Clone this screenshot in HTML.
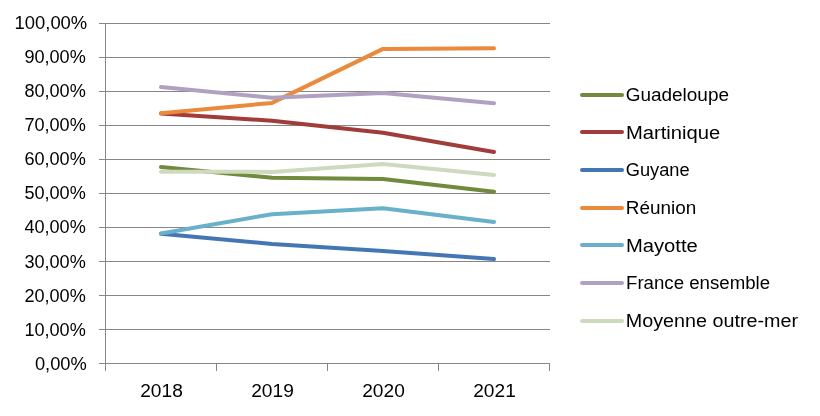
<!DOCTYPE html>
<html><head><meta charset="utf-8"><title>Chart</title>
<style>
html,body{margin:0;padding:0;background:#fff;}
body{width:820px;height:416px;overflow:hidden;}
svg{display:block;}
text{font-family:"Liberation Sans",sans-serif;font-size:18.7px;fill:#000;}
</style></head><body>
<svg width="820" height="416" viewBox="0 0 820 416">
<rect width="820" height="416" fill="#fff"/>
<g stroke="#868686" stroke-width="1" fill="none" shape-rendering="crispEdges">
<line x1="99" y1="23.5" x2="550" y2="23.5"/>
<line x1="99" y1="57.5" x2="550" y2="57.5"/>
<line x1="99" y1="91.5" x2="550" y2="91.5"/>
<line x1="99" y1="125.5" x2="550" y2="125.5"/>
<line x1="99" y1="159.5" x2="550" y2="159.5"/>
<line x1="99" y1="193.5" x2="550" y2="193.5"/>
<line x1="99" y1="227.5" x2="550" y2="227.5"/>
<line x1="99" y1="261.5" x2="550" y2="261.5"/>
<line x1="99" y1="295.5" x2="550" y2="295.5"/>
<line x1="99" y1="329.5" x2="550" y2="329.5"/>
<line x1="99" y1="363.5" x2="550" y2="363.5"/>
<line x1="105.5" y1="23" x2="105.5" y2="371"/>
<line x1="216.5" y1="364" x2="216.5" y2="371"/>
<line x1="327.5" y1="364" x2="327.5" y2="371"/>
<line x1="438.5" y1="364" x2="438.5" y2="371"/>
<line x1="549.5" y1="364" x2="549.5" y2="371"/>
</g>
<g style="filter:grayscale(1)">
<g>
<text x="14.6" y="29.4" textLength="72.6" lengthAdjust="spacingAndGlyphs">100,00%</text>
<text x="24.4" y="63.0" textLength="61.4" lengthAdjust="spacingAndGlyphs">90,00%</text>
<text x="24.4" y="97.0" textLength="61.4" lengthAdjust="spacingAndGlyphs">80,00%</text>
<text x="24.4" y="131.0" textLength="61.4" lengthAdjust="spacingAndGlyphs">70,00%</text>
<text x="24.4" y="165.0" textLength="61.4" lengthAdjust="spacingAndGlyphs">60,00%</text>
<text x="24.4" y="199.0" textLength="61.4" lengthAdjust="spacingAndGlyphs">50,00%</text>
<text x="24.4" y="233.0" textLength="61.4" lengthAdjust="spacingAndGlyphs">40,00%</text>
<text x="24.4" y="267.9" textLength="61.4" lengthAdjust="spacingAndGlyphs">30,00%</text>
<text x="24.4" y="301.9" textLength="61.4" lengthAdjust="spacingAndGlyphs">20,00%</text>
<text x="24.4" y="335.9" textLength="61.4" lengthAdjust="spacingAndGlyphs">10,00%</text>
<text x="34.9" y="369.9" textLength="51.9" lengthAdjust="spacingAndGlyphs">0,00%</text>
</g>
<g text-anchor="middle">
<text x="161.5" y="397.2" textLength="42.6" lengthAdjust="spacingAndGlyphs">2018</text>
<text x="272.5" y="397.2" textLength="42.6" lengthAdjust="spacingAndGlyphs">2019</text>
<text x="383.5" y="397.2" textLength="42.6" lengthAdjust="spacingAndGlyphs">2020</text>
<text x="494.5" y="397.2" textLength="42.6" lengthAdjust="spacingAndGlyphs">2021</text>
</g>
</g>
<g fill="none" stroke-width="4" stroke-linecap="round" stroke-linejoin="round">
<polyline stroke="#718a3d" points="161,167.1 272,177.8 383,179 494,191.7"/>
<polyline stroke="#a03c3a" points="161,113.5 272,120.7 383,132.7 494,152"/>
<polyline stroke="#4576b4" points="161,233.8 272,244 383,251 494,259"/>
<polyline stroke="#e98a3c" points="161,113.2 272,102.9 383,48.9 494,48.2"/>
<polyline stroke="#69b0ca" points="161,233.5 272,214.2 383,208.2 494,221.9"/>
<polyline stroke="#b0a1c2" points="161,87.1 272,97.8 383,93 494,103.2"/>
<polyline stroke="#cddabd" points="161,171.7 272,171.9 383,163.9 494,175"/>
</g>
<g stroke-width="4" stroke-linecap="round">
<line stroke="#718a3d" x1="582" y1="95" x2="622" y2="95"/>
<line stroke="#a03c3a" x1="582" y1="132" x2="622" y2="132"/>
<line stroke="#4576b4" x1="582" y1="170" x2="622" y2="170"/>
<line stroke="#e98a3c" x1="582" y1="208" x2="622" y2="208"/>
<line stroke="#69b0ca" x1="582" y1="245" x2="622" y2="245"/>
<line stroke="#b0a1c2" x1="582" y1="283" x2="622" y2="283"/>
<line stroke="#cddabd" x1="582" y1="321" x2="622" y2="321"/>
</g>
<g style="filter:grayscale(1)">
<text x="625.7" y="100.5" textLength="103.3" lengthAdjust="spacingAndGlyphs">Guadeloupe</text>
<text x="625.9" y="139.1" textLength="94.3" lengthAdjust="spacingAndGlyphs">Martinique</text>
<text x="625.7" y="175.6" textLength="64.0" lengthAdjust="spacingAndGlyphs">Guyane</text>
<text x="625.8" y="213.6" textLength="70.5" lengthAdjust="spacingAndGlyphs">Réunion</text>
<text x="625.9" y="252.1" textLength="71.9" lengthAdjust="spacingAndGlyphs">Mayotte</text>
<text x="626.0" y="288.9" textLength="144.1" lengthAdjust="spacingAndGlyphs">France ensemble</text>
<text x="625.8" y="326.7" textLength="172.3" lengthAdjust="spacingAndGlyphs">Moyenne outre-mer</text>
</g>
</svg>
</body></html>
